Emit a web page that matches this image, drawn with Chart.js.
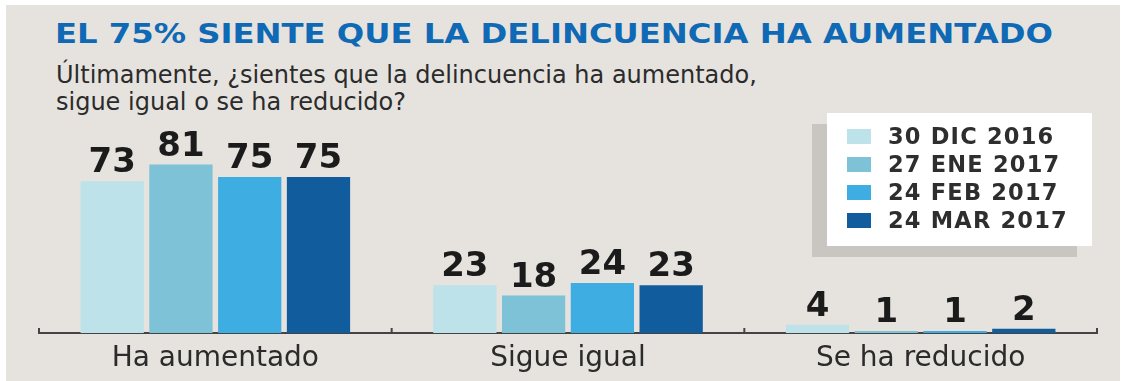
<!DOCTYPE html>
<html lang="es">
<head>
<meta charset="utf-8" />
<title>El 75% siente que la delincuencia ha aumentado</title>
<script src="https://cdn.jsdelivr.net/npm/chart.js@4/dist/chart.umd.min.js"></script>
<style>
  html, body {
    margin: 0;
    padding: 0;
    background: #ffffff;
  }
  #page {
    position: relative;
    width: 1131px;
    height: 381px;
    overflow: hidden;
    font-family: "DejaVu Sans", sans-serif;
  }
  #panel {
    position: absolute;
    left: 6px;
    top: 5px;
    width: 1114px;
    height: 376px;
    background: #e6e3df;
  }
  #title {
    position: absolute;
    left: 55px;
    top: 20px;
    font-size: 27px;
    line-height: 27px;
    font-weight: bold;
    color: #0f69b4;
    white-space: nowrap;
    transform: scaleX(1.195);
    transform-origin: left top;
  }
  #subtitle {
    position: absolute;
    left: 56px;
    top: 62px;
    font-size: 24px;
    line-height: 27px;
    color: #2b2b2b;
    white-space: nowrap;
  }
  #chartWrap {
    position: absolute;
    left: 0;
    top: 0;
    width: 1131px;
    height: 381px;
  }
  #legend {
    position: absolute;
    left: 827px;
    top: 113px;
    width: 265px;
    height: 133px;
    background: #ffffff;
    box-shadow: -15px 11px 0 #c9c5c1;
    box-sizing: border-box;
    padding-top: 9px;
  }
  .legend-row {
    display: flex;
    align-items: center;
    height: 28px;
  }
  .legend-box {
    width: 24px;
    height: 15px;
    margin-left: 20px;
    margin-right: 17px;
  }
  .legend-text {
    font-size: 22.5px;
    font-weight: bold;
    letter-spacing: 1.2px;
    color: #2e2e2e;
    white-space: nowrap;
  }
</style>
</head>
<body>
<div id="page">
  <div id="panel"></div>
  <div id="title">EL 75% SIENTE QUE LA DELINCUENCIA HA AUMENTADO</div>
  <div id="subtitle">Últimamente, ¿sientes que la delincuencia ha aumentado,<br />sigue igual o se ha reducido?</div>
  <div id="chartWrap"><canvas id="chart" width="1131" height="381"></canvas></div>
  <div id="legend"></div>
</div>

<script>
const categories = ["Ha aumentado", "Sigue igual", "Se ha reducido"];

const seriesLabels = ["30 DIC 2016", "27 ENE 2017", "24 FEB 2017", "24 MAR 2017"];
const seriesColors = ["#bde2ea", "#7dc2d6", "#3eade1", "#115c9d"];

const dic2016 = [73, 23, 4];
const ene2017 = [81, 18, 1];
const feb2017 = [75, 24, 1];
const mar2017 = [75, 23, 2];

const seriesValues = [dic2016, ene2017, feb2017, mar2017];

function $(id) {
  return document.getElementById(id);
}

// numbers over each bar
const valueLabels = {
  id: "valueLabels",
  afterDatasetsDraw(chart) {
    const ctx = chart.ctx;
    ctx.save();
    ctx.font = "bold 34px 'DejaVu Sans'";
    ctx.fillStyle = "#1b1b1b";
    ctx.textAlign = "center";
    ctx.textBaseline = "alphabetic";
    chart.data.datasets.forEach((ds, i) => {
      const meta = chart.getDatasetMeta(i);
      meta.data.forEach((bar, j) => {
        ctx.fillText(String(ds.data[j]), bar.x, bar.y - 9);
      });
    });
    ctx.restore();
  },
};

// small upward ticks at the category boundaries
const boundaryTicks = {
  id: "boundaryTicks",
  afterDraw(chart) {
    const x = chart.scales.x;
    const ctx = chart.ctx;
    const half = (x.getPixelForValue(1) - x.getPixelForValue(0)) / 2;
    const bottom = chart.chartArea.bottom;
    ctx.save();
    ctx.strokeStyle = "#444444";
    ctx.lineWidth = 2;
    for (let i = 0; i <= categories.length; i++) {
      const px = x.getPixelForValue(0) - half + i * half * 2;
      ctx.beginPath();
      ctx.moveTo(px, bottom + 1);
      ctx.lineTo(px, bottom - 5);
      ctx.stroke();
    }
    ctx.restore();
  },
};

function buildLegend() {
  const legend = $("legend");
  seriesLabels.forEach((label, i) => {
    const row = document.createElement("div");
    row.className = "legend-row";
    row.innerHTML =
      `<div class="legend-box" style="background:${seriesColors[i]}"></div>` +
      `<div class="legend-text">${label}</div>`;
    legend.appendChild(row);
  });
}

function buildChart() {
  new Chart($("chart"), {
    type: "bar",
    data: {
      labels: categories,
      datasets: seriesLabels.map((label, i) => ({
        label,
        data: seriesValues[i],
        backgroundColor: seriesColors[i],
        borderWidth: 0,
        categoryPercentage: 0.78,
        barPercentage: 0.92,
      })),
    },
    options: {
      responsive: false,
      animation: false,
      layout: {
        padding: { left: 39, right: 34, top: 125, bottom: -4 },
      },
      plugins: {
        legend: { display: false },
        tooltip: { enabled: false },
      },
      scales: {
        y: {
          display: false,
          min: 0,
          max: 100,
        },
        x: {
          grid: { display: false, drawTicks: false },
          border: { display: true, color: "#444444", width: 2 },
          ticks: {
            color: "#2b2b2b",
            padding: 12,
            font: { family: "DejaVu Sans", size: 28, lineHeight: 1 },
          },
        },
      },
    },
    plugins: [valueLabels, boundaryTicks],
  });
}

buildLegend();
buildChart();
</script>
</body>
</html>
